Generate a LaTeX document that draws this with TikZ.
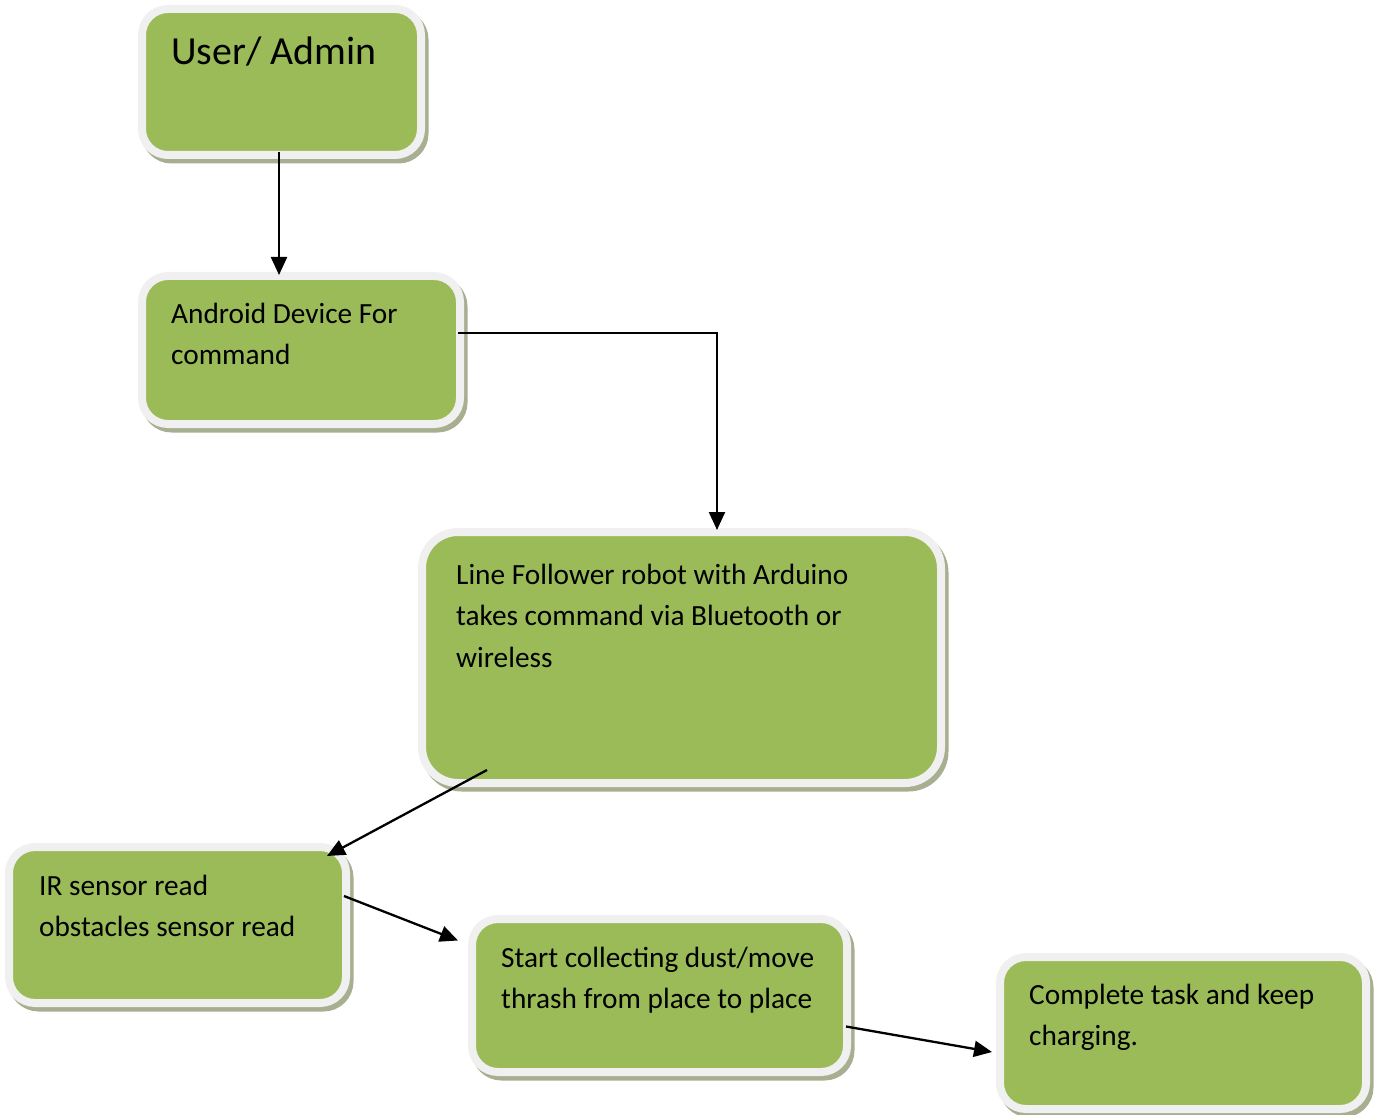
\documentclass[tikz,border=0pt]{standalone}
\usepackage{fontspec}
\setmainfont{Carlito}
\usetikzlibrary{arrows.meta,calc}
\definecolor{boxgreen}{HTML}{9BBB59}
\definecolor{rimc}{HTML}{F0F0F0}
\definecolor{shadowc}{HTML}{A7AF90}
\begin{document}
\begin{tikzpicture}[x=1pt,y=-1pt,
  box/.style={rectangle, rounded corners=#1, fill=boxgreen, draw=rimc, line width=8pt,
    outer sep=0pt, inner sep=0pt,
    preaction={fill=shadowc, draw=shadowc, line width=8pt, transform canvas={shift={(3.5pt,-4.5pt)}}}},
  box/.default=26pt,
  lbl/.style={anchor=north west, inner sep=0pt, align=left, font=\fontsize{29.3}{41.3}\selectfont},
  arr/.style={line width=2.3pt, -{Triangle[length=18pt,width=16pt]}}]
\useasboundingbox (0,0) rectangle (1374,1115);
\node[box, minimum width=279pt, minimum height=146pt] (b1) at (281.5,82) {};
\node[box, minimum width=318pt, minimum height=148pt] (b2) at (301,350) {};
\node[box=36pt, minimum width=519pt, minimum height=251pt] (b3) at (681.5,657.5) {};
\node[box, minimum width=337pt, minimum height=156pt] (b4) at (177.5,925) {};
\node[box, minimum width=375pt, minimum height=153pt] (b5) at (659.5,995.5) {};
\node[box, minimum width=366pt, minimum height=152pt] (b6) at (1183,1033) {};

\node[lbl, font=\fontsize{39.8}{47}\selectfont] (t1) at (171,37) {User/ Admin};
\node[lbl] (t2) at (171,303) {Android Device For\\command};
\node[lbl] (t3) at (456,564) {Line Follower robot with Arduino\\takes command via Bluetooth or\\wireless};
\node[lbl] (t4) at (39,875) {IR sensor read\\obstacles sensor read};
\node[lbl] (t5) at (501,947) {Start collecting dust/move\\thrash from place to place};
\node[lbl] (t6) at (1029,984) {Complete task and keep\\charging.};

\draw[arr] ($(b1.south)+(-2.5,-3)$) -- ($(b2.north)+(-22,-1)$);
\draw[arr] ($(b2.east)+(-2,-17)$) -| ($(b3.north)+(35.5,-2)$);
\draw[arr] ($(b3.south west)+(65,-13)$) -- ($(b4.north east)+(-19,9)$);
\draw[arr] ($(b4.east)+(-2,-29)$) -- ($(b5.west)+(-14,-55)$);
\draw[arr] ($(b5.east)+(-1,31)$) -- ($(b6.west)+(-8,19)$);
\end{tikzpicture}
\end{document}
